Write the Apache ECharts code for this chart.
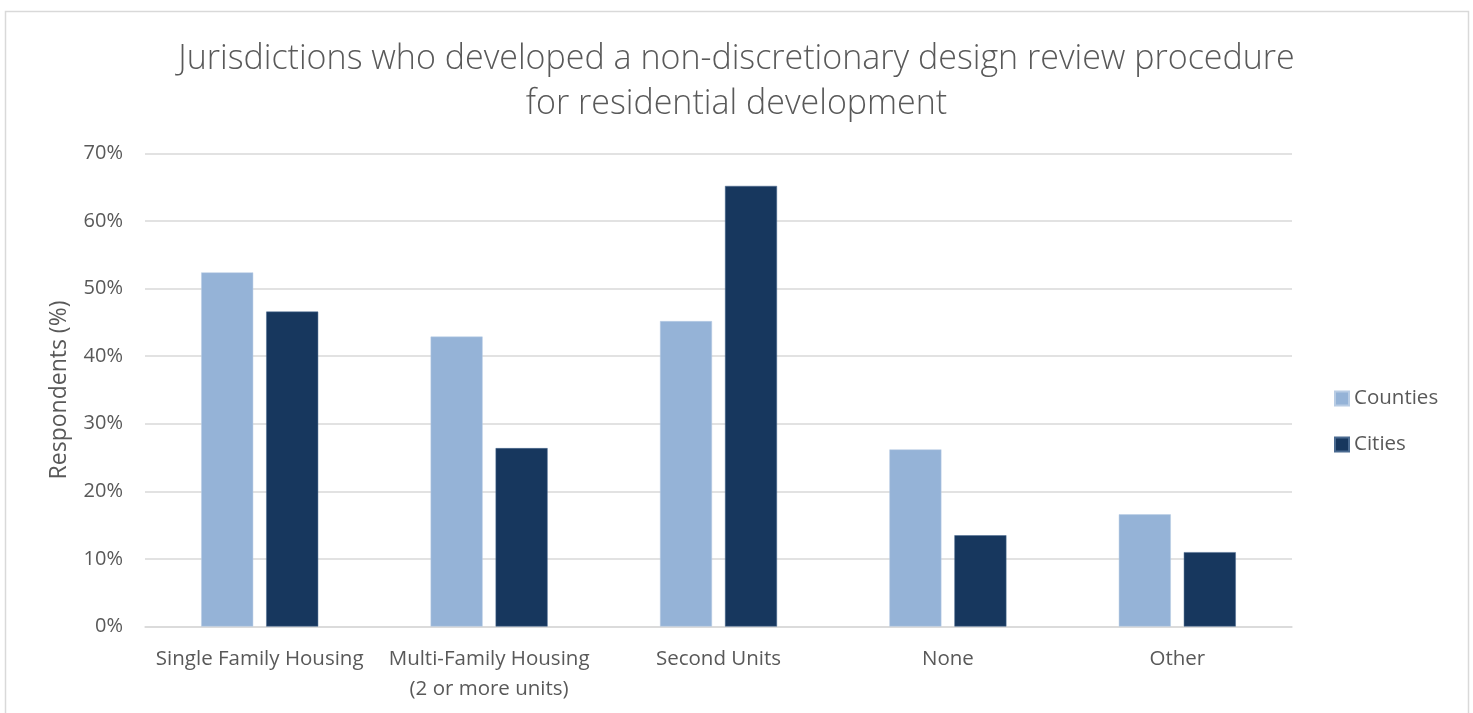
<!DOCTYPE html>
<html>
<head>
<meta charset="utf-8">
<script src="https://cdn.jsdelivr.net/npm/echarts@6/dist/echarts.min.js"></script>
<style>
html,body{margin:0;padding:0;background:#fff;}
#c{width:1473px;height:713px;}
</style>
</head>
<body>
<div id="c"></div>
<script>
const categories = ['Single Family Housing', 'Multi-Family Housing\n(2 or more units)', 'Second Units', 'None', 'Other'];
const counties = [52.4, 42.9, 45.2, 26.2, 16.6];
const cities = [46.6, 26.4, 65.2, 13.5, 11.0];
const yTicks = [0, 10, 20, 30, 40, 50, 60, 70];

const chart = echarts.init(document.getElementById('c'));
const fontFam = '"Open Sans", "Noto Sans", sans-serif';
chart.setOption({
  backgroundColor: '#fff',
  animation: false,
  graphic: [{
    type: 'rect', left: 3, top: 9,
    shape: { width: 1463, height: 720 },
    style: { fill: 'none', stroke: '#d9d9d9', lineWidth: 1.5 },
    silent: true
  }],
  title: {
    text: 'Jurisdictions who developed a non-discretionary design review procedure\nfor residential development',
    left: 'center', top: 32,
    textStyle: { fontFamily: fontFam, fontWeight: 300, fontSize: 34, color: '#595959', lineHeight: 45 }
  },
  legend: {
    orient: 'vertical', left: 1334, top: 388, padding: 0,
    itemWidth: 14, itemHeight: 14, itemGap: 25,
    icon: 'rect',
    textStyle: { fontFamily: fontFam, fontSize: 20.5, lineHeight: 20, color: '#595959' },
    data: ['Counties', 'Cities']
  },
  grid: { left: 145, right: 181, top: 153.5, bottom: 86.5, containLabel: false },
  xAxis: {
    type: 'category', data: categories,
    axisLine: { lineStyle: { color: '#d9d9d9', width: 1.5 } },
    axisTick: { show: false },
    axisLabel: { fontFamily: fontFam, fontSize: 20.5, color: '#595959', margin: 18, lineHeight: 30, interval: 0 }
  },
  yAxis: {
    type: 'value', min: 0, max: 70, interval: 10,
    name: 'Respondents (%)', nameLocation: 'middle', nameGap: 74,
    nameTextStyle: { fontFamily: fontFam, fontSize: 23, color: '#595959' },
    axisLine: { show: false }, axisTick: { show: false },
    axisLabel: { fontFamily: fontFam, fontSize: 20, color: '#595959', margin: 22,
      formatter: v => yTicks.includes(v) ? v + '%' : '' },
    splitLine: { lineStyle: { color: '#d9d9d9', width: 1.5 } }
  },
  series: [
    { name: 'Counties', type: 'bar', data: counties, barWidth: 52, barGap: '25%',
      itemStyle: { color: '#95b3d7', borderColor: '#b8cce4', borderWidth: 0.5 } },
    { name: 'Cities', type: 'bar', data: cities, barWidth: 52, barGap: '25%',
      itemStyle: { color: '#17375e', borderColor: '#4a6a90', borderWidth: 0.5 } }
  ]
});
</script>
</body>
</html>
